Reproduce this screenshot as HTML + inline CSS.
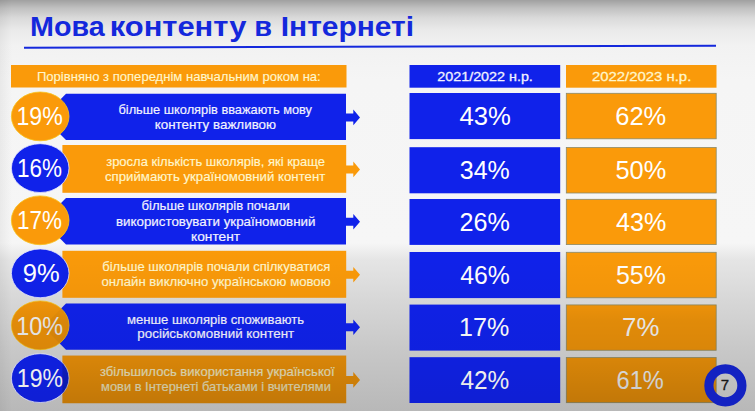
<!DOCTYPE html>
<html><head><meta charset="utf-8"><style>
html,body{margin:0;padding:0;width:755px;height:411px;overflow:hidden;background:#eee;}
svg{display:block;}
</style></head><body>
<svg width="755" height="411" viewBox="0 0 755 411">
<defs>
<linearGradient id="bg" x1="0" y1="0" x2="0" y2="1"><stop offset="0.0000" stop-color="#a0a0a0"/><stop offset="0.0195" stop-color="#c0c0c0"/><stop offset="0.0438" stop-color="#dadada"/><stop offset="0.0730" stop-color="#eaeaea"/><stop offset="0.1095" stop-color="#f2f2f2"/><stop offset="0.1946" stop-color="#f5f5f5"/><stop offset="0.5912" stop-color="#f6f6f6"/><stop offset="0.6326" stop-color="#e5e5e5"/><stop offset="0.7299" stop-color="#d7d7d7"/><stop offset="0.8491" stop-color="#c8c8c8"/><stop offset="1.0000" stop-color="#b8b8b8"/></linearGradient>
<linearGradient id="vo2" x1="0" y1="0" x2="0" y2="411" gradientUnits="userSpaceOnUse"><stop offset="0.0000" stop-color="#000" stop-opacity="0"/><stop offset="0.6083" stop-color="#000" stop-opacity="0"/><stop offset="0.7178" stop-color="#000" stop-opacity="0.03"/><stop offset="0.7786" stop-color="#000" stop-opacity="0.1"/><stop offset="0.8759" stop-color="#000" stop-opacity="0.14"/><stop offset="1.0000" stop-color="#000" stop-opacity="0.24"/></linearGradient>
<linearGradient id="vb2" x1="0" y1="0" x2="0" y2="411" gradientUnits="userSpaceOnUse"><stop offset="0.0000" stop-color="#000" stop-opacity="0"/><stop offset="0.6083" stop-color="#000" stop-opacity="0"/><stop offset="0.8516" stop-color="#000" stop-opacity="0.05"/><stop offset="1.0000" stop-color="#000" stop-opacity="0.1"/></linearGradient>
<clipPath id="cO"><rect x="11" y="65" width="335.5" height="22.5" fill="#fa9a0a"/><rect x="566" y="65" width="150.5" height="22.7" fill="#fa9a0a"/><ellipse cx="40.2" cy="116.4" rx="28.8" ry="24.4" fill="#fa9a0a" stroke="#f7c21a" stroke-width="0.8"/><rect x="566.3" y="93.3" width="149.9" height="45.5" fill="#fa9a0a" stroke="#8a8a6a" stroke-width="0.8"/><rect x="62.4" y="145" width="283.8" height="47.8" fill="#fa9a0a"/><polygon points="345.5,165.4 353.3,165.4 353.3,161.6 360,169.4 353.3,177.20000000000002 353.3,173.4 345.5,173.4" fill="#fa9a0a"/><rect x="566.3" y="147.5" width="149.9" height="45.5" fill="#fa9a0a" stroke="#8a8a6a" stroke-width="0.8"/><ellipse cx="40.2" cy="220.3" rx="28.8" ry="24.4" fill="#fa9a0a" stroke="#f7c21a" stroke-width="0.8"/><rect x="566.3" y="199.3" width="149.9" height="45.3" fill="#fa9a0a" stroke="#8a8a6a" stroke-width="0.8"/><rect x="62.4" y="250.8" width="283.8" height="47.0" fill="#fa9a0a"/><polygon points="345.5,270.8 353.3,270.8 353.3,267.0 360,274.8 353.3,282.6 353.3,278.8 345.5,278.8" fill="#fa9a0a"/><rect x="566.3" y="252.3" width="149.9" height="45.5" fill="#fa9a0a" stroke="#8a8a6a" stroke-width="0.8"/><ellipse cx="40.2" cy="325.3" rx="28.8" ry="24.4" fill="#fa9a0a" stroke="#f7c21a" stroke-width="0.8"/><rect x="566.3" y="304.90000000000003" width="149.9" height="45.4" fill="#fa9a0a" stroke="#8a8a6a" stroke-width="0.8"/><rect x="62.4" y="355.6" width="283.8" height="47.6" fill="#fa9a0a"/><polygon points="345.5,375.9 353.3,375.9 353.3,372.09999999999997 360,379.9 353.3,387.7 353.3,383.9 345.5,383.9" fill="#fa9a0a"/><rect x="566.3" y="357.5" width="149.9" height="45.2" fill="#fa9a0a" stroke="#8a8a6a" stroke-width="0.8"/></clipPath>
<clipPath id="cB"><rect x="409.5" y="65" width="150.7" height="22.7" fill="#1022ea"/><polygon points="66,93.8 346,93.8 346,140 66,140 43,116.9" fill="#1022ea"/><polygon points="345.5,113.4 353.3,113.4 353.3,109.60000000000001 360,117.4 353.3,125.2 353.3,121.4 345.5,121.4" fill="#1022ea"/><rect x="409.5" y="93" width="150.7" height="46.1" fill="#1022ea"/><ellipse cx="40.2" cy="168.1" rx="28.8" ry="24.4" fill="#1022ea" stroke="#e8e8ff" stroke-width="0.8"/><rect x="409.5" y="147.2" width="150.7" height="46.1" fill="#1022ea"/><polygon points="66,197.9 346,197.9 346,244.6 66,244.6 43,221.25" fill="#1022ea"/><polygon points="345.5,217.75 353.3,217.75 353.3,213.95 360,221.75 353.3,229.55 353.3,225.75 345.5,225.75" fill="#1022ea"/><rect x="409.5" y="199" width="150.7" height="45.9" fill="#1022ea"/><ellipse cx="40.2" cy="273.3" rx="28.8" ry="24.4" fill="#1022ea" stroke="#e8e8ff" stroke-width="0.8"/><rect x="409.5" y="252" width="150.7" height="46.1" fill="#1022ea"/><polygon points="66,303.6 346,303.6 346,349.8 66,349.8 43,326.70000000000005" fill="#1022ea"/><polygon points="345.5,323.20000000000005 353.3,323.20000000000005 353.3,319.40000000000003 360,327.20000000000005 353.3,335.00000000000006 353.3,331.20000000000005 345.5,331.20000000000005" fill="#1022ea"/><rect x="409.5" y="304.6" width="150.7" height="46.0" fill="#1022ea"/><ellipse cx="40.2" cy="378.1" rx="28.8" ry="24.4" fill="#1022ea" stroke="#e8e8ff" stroke-width="0.8"/><rect x="409.5" y="357.2" width="150.7" height="45.8" fill="#1022ea"/></clipPath>
<linearGradient id="lg" x1="0" y1="0" x2="1" y2="0"><stop offset="0" stop-color="#000" stop-opacity="0.05"/><stop offset="1" stop-color="#000" stop-opacity="0"/></linearGradient>
</defs>
<rect x="0" y="0" width="755" height="411" fill="url(#bg)"/>
<rect x="0" y="0" width="12" height="411" fill="url(#lg)"/>
<text x="30.07" y="36.2" font-family="'Liberation Sans', sans-serif" font-weight="bold" font-size="27" fill="#1428dc" textLength="74.57" lengthAdjust="spacingAndGlyphs">Мова</text>
<text x="109.74" y="36.2" font-family="'Liberation Sans', sans-serif" font-weight="bold" font-size="27" fill="#1428dc" textLength="136.63" lengthAdjust="spacingAndGlyphs">контенту</text>
<text x="254.28" y="36.2" font-family="'Liberation Sans', sans-serif" font-weight="bold" font-size="27" fill="#1428dc" textLength="17.77" lengthAdjust="spacingAndGlyphs">в</text>
<text x="280.78" y="36.2" font-family="'Liberation Sans', sans-serif" font-weight="bold" font-size="27" fill="#1428dc" textLength="133.34" lengthAdjust="spacingAndGlyphs">Інтернеті</text>
<line x1="24" y1="47.7" x2="716" y2="45.7" stroke="#1428dc" stroke-width="2"/>
<rect x="11" y="65" width="335.5" height="22.5" fill="#fa9a0a"/>
<rect x="409.5" y="65" width="150.7" height="22.7" fill="#1022ea"/>
<rect x="566" y="65" width="150.5" height="22.7" fill="#fa9a0a"/>
<polygon points="66,93.8 346,93.8 346,140 66,140 43,116.9" fill="#1022ea"/>
<polygon points="345.5,113.4 353.3,113.4 353.3,109.60000000000001 360,117.4 353.3,125.2 353.3,121.4 345.5,121.4" fill="#1022ea"/>
<ellipse cx="40.2" cy="116.4" rx="28.8" ry="24.4" fill="#fa9a0a" stroke="#f7c21a" stroke-width="0.8"/>
<rect x="409.5" y="93" width="150.7" height="46.1" fill="#1022ea"/>
<rect x="566.3" y="93.3" width="149.9" height="45.5" fill="#fa9a0a" stroke="#8a8a6a" stroke-width="0.8"/>
<rect x="62.4" y="145" width="283.8" height="47.8" fill="#fa9a0a"/>
<polygon points="345.5,165.4 353.3,165.4 353.3,161.6 360,169.4 353.3,177.20000000000002 353.3,173.4 345.5,173.4" fill="#fa9a0a"/>
<ellipse cx="40.2" cy="168.1" rx="28.8" ry="24.4" fill="#1022ea" stroke="#e8e8ff" stroke-width="0.8"/>
<rect x="409.5" y="147.2" width="150.7" height="46.1" fill="#1022ea"/>
<rect x="566.3" y="147.5" width="149.9" height="45.5" fill="#fa9a0a" stroke="#8a8a6a" stroke-width="0.8"/>
<polygon points="66,197.9 346,197.9 346,244.6 66,244.6 43,221.25" fill="#1022ea"/>
<polygon points="345.5,217.75 353.3,217.75 353.3,213.95 360,221.75 353.3,229.55 353.3,225.75 345.5,225.75" fill="#1022ea"/>
<ellipse cx="40.2" cy="220.3" rx="28.8" ry="24.4" fill="#fa9a0a" stroke="#f7c21a" stroke-width="0.8"/>
<rect x="409.5" y="199" width="150.7" height="45.9" fill="#1022ea"/>
<rect x="566.3" y="199.3" width="149.9" height="45.3" fill="#fa9a0a" stroke="#8a8a6a" stroke-width="0.8"/>
<rect x="62.4" y="250.8" width="283.8" height="47.0" fill="#fa9a0a"/>
<polygon points="345.5,270.8 353.3,270.8 353.3,267.0 360,274.8 353.3,282.6 353.3,278.8 345.5,278.8" fill="#fa9a0a"/>
<ellipse cx="40.2" cy="273.3" rx="28.8" ry="24.4" fill="#1022ea" stroke="#e8e8ff" stroke-width="0.8"/>
<rect x="409.5" y="252" width="150.7" height="46.1" fill="#1022ea"/>
<rect x="566.3" y="252.3" width="149.9" height="45.5" fill="#fa9a0a" stroke="#8a8a6a" stroke-width="0.8"/>
<polygon points="66,303.6 346,303.6 346,349.8 66,349.8 43,326.70000000000005" fill="#1022ea"/>
<polygon points="345.5,323.20000000000005 353.3,323.20000000000005 353.3,319.40000000000003 360,327.20000000000005 353.3,335.00000000000006 353.3,331.20000000000005 345.5,331.20000000000005" fill="#1022ea"/>
<ellipse cx="40.2" cy="325.3" rx="28.8" ry="24.4" fill="#fa9a0a" stroke="#f7c21a" stroke-width="0.8"/>
<rect x="409.5" y="304.6" width="150.7" height="46.0" fill="#1022ea"/>
<rect x="566.3" y="304.90000000000003" width="149.9" height="45.4" fill="#fa9a0a" stroke="#8a8a6a" stroke-width="0.8"/>
<rect x="62.4" y="355.6" width="283.8" height="47.6" fill="#fa9a0a"/>
<polygon points="345.5,375.9 353.3,375.9 353.3,372.09999999999997 360,379.9 353.3,387.7 353.3,383.9 345.5,383.9" fill="#fa9a0a"/>
<ellipse cx="40.2" cy="378.1" rx="28.8" ry="24.4" fill="#1022ea" stroke="#e8e8ff" stroke-width="0.8"/>
<rect x="409.5" y="357.2" width="150.7" height="45.8" fill="#1022ea"/>
<rect x="566.3" y="357.5" width="149.9" height="45.2" fill="#fa9a0a" stroke="#8a8a6a" stroke-width="0.8"/>
<text x="36.96" y="80.8" font-family="'Liberation Sans', sans-serif" font-size="13" fill="#fff6cc" textLength="283.81" lengthAdjust="spacingAndGlyphs" stroke="#fff6cc" stroke-width="0.15">Порівняно з попереднім навчальним роком на:</text>
<text x="437.28" y="81.2" font-family="'Liberation Sans', sans-serif" font-size="13" fill="#f2f2ff" textLength="95.6" lengthAdjust="spacingAndGlyphs" stroke="#f2f2ff" stroke-width="0.3">2021/2022 н.р.</text>
<text x="591.95" y="81.2" font-family="'Liberation Sans', sans-serif" font-size="13" fill="#fff6cc" textLength="99.37" lengthAdjust="spacingAndGlyphs" stroke="#fff6cc" stroke-width="0.3">2022/2023 н.р.</text>
<text x="16.46" y="124.7" font-family="'Liberation Sans', sans-serif" font-size="26.5" fill="#ffffff" textLength="46.32" lengthAdjust="spacingAndGlyphs">19%</text>
<text x="118.46" y="114" font-family="'Liberation Sans', sans-serif" font-size="13" fill="#f2f2ff" textLength="193.56" lengthAdjust="spacingAndGlyphs" stroke="#f2f2ff" stroke-width="0.18">більше школярів вважають мову</text>
<text x="154.7" y="128.5" font-family="'Liberation Sans', sans-serif" font-size="13" fill="#f2f2ff" textLength="121.38" lengthAdjust="spacingAndGlyphs" stroke="#f2f2ff" stroke-width="0.18">контенту важливою</text>
<text x="459.42" y="124.8" font-family="'Liberation Sans', sans-serif" font-size="26" fill="#ffffff" textLength="51.45" lengthAdjust="spacingAndGlyphs">43%</text>
<text x="615.22" y="124.8" font-family="'Liberation Sans', sans-serif" font-size="26" fill="#ffffff" textLength="51.04" lengthAdjust="spacingAndGlyphs">62%</text>
<text x="16.92" y="176.5" font-family="'Liberation Sans', sans-serif" font-size="26.5" fill="#ffffff" textLength="44.95" lengthAdjust="spacingAndGlyphs">16%</text>
<text x="106.18" y="166" font-family="'Liberation Sans', sans-serif" font-size="13" fill="#fff6cc" textLength="218.9" lengthAdjust="spacingAndGlyphs" stroke="#fff6cc" stroke-width="0.18">зросла кількість школярів, які краще</text>
<text x="104.94" y="181.2" font-family="'Liberation Sans', sans-serif" font-size="13" fill="#fff6cc" textLength="220.29" lengthAdjust="spacingAndGlyphs" stroke="#fff6cc" stroke-width="0.18">сприймають україномовний контент</text>
<text x="459.76" y="179.0" font-family="'Liberation Sans', sans-serif" font-size="26" fill="#ffffff" textLength="49.99" lengthAdjust="spacingAndGlyphs">34%</text>
<text x="615.49" y="179.0" font-family="'Liberation Sans', sans-serif" font-size="26" fill="#ffffff" textLength="50.78" lengthAdjust="spacingAndGlyphs">50%</text>
<text x="16.92" y="229" font-family="'Liberation Sans', sans-serif" font-size="26.5" fill="#ffffff" textLength="44.95" lengthAdjust="spacingAndGlyphs">17%</text>
<text x="141.55" y="210.3" font-family="'Liberation Sans', sans-serif" font-size="13" fill="#f2f2ff" textLength="148.35" lengthAdjust="spacingAndGlyphs" stroke="#f2f2ff" stroke-width="0.18">більше школярів почали</text>
<text x="115.97" y="226" font-family="'Liberation Sans', sans-serif" font-size="13" fill="#f2f2ff" textLength="199.45" lengthAdjust="spacingAndGlyphs" stroke="#f2f2ff" stroke-width="0.18">використовувати україномовний</text>
<text x="191.07" y="240.9" font-family="'Liberation Sans', sans-serif" font-size="13" fill="#f2f2ff" textLength="48.97" lengthAdjust="spacingAndGlyphs" stroke="#f2f2ff" stroke-width="0.18">контент</text>
<text x="459.44" y="230.8" font-family="'Liberation Sans', sans-serif" font-size="26" fill="#ffffff" textLength="50.31" lengthAdjust="spacingAndGlyphs">26%</text>
<text x="615.93" y="230.8" font-family="'Liberation Sans', sans-serif" font-size="26" fill="#ffffff" textLength="50.32" lengthAdjust="spacingAndGlyphs">43%</text>
<text x="22.79" y="282" font-family="'Liberation Sans', sans-serif" font-size="26.5" fill="#ffffff" textLength="36.92" lengthAdjust="spacingAndGlyphs">9%</text>
<text x="102.25" y="271" font-family="'Liberation Sans', sans-serif" font-size="13" fill="#fff6cc" textLength="227.96" lengthAdjust="spacingAndGlyphs" stroke="#fff6cc" stroke-width="0.18">більше школярів почали спілкуватися</text>
<text x="101.44" y="285.6" font-family="'Liberation Sans', sans-serif" font-size="13" fill="#fff6cc" textLength="229.13" lengthAdjust="spacingAndGlyphs" stroke="#fff6cc" stroke-width="0.18">онлайн виключно українською мовою</text>
<text x="460.14" y="283.8" font-family="'Liberation Sans', sans-serif" font-size="26" fill="#ffffff" textLength="49.6" lengthAdjust="spacingAndGlyphs">46%</text>
<text x="616.0" y="283.8" font-family="'Liberation Sans', sans-serif" font-size="26" fill="#ffffff" textLength="49.84" lengthAdjust="spacingAndGlyphs">55%</text>
<text x="16.14" y="334.5" font-family="'Liberation Sans', sans-serif" font-size="26.5" fill="#ffffff" textLength="46.85" lengthAdjust="spacingAndGlyphs">10%</text>
<text x="127.08" y="323.6" font-family="'Liberation Sans', sans-serif" font-size="13" fill="#f2f2ff" textLength="176.94" lengthAdjust="spacingAndGlyphs" stroke="#f2f2ff" stroke-width="0.18">менше школярів споживають</text>
<text x="137.33" y="338.2" font-family="'Liberation Sans', sans-serif" font-size="13" fill="#f2f2ff" textLength="156.83" lengthAdjust="spacingAndGlyphs" stroke="#f2f2ff" stroke-width="0.18">російськомовний контент</text>
<text x="459.12" y="336.40000000000003" font-family="'Liberation Sans', sans-serif" font-size="26" fill="#ffffff" textLength="50.24" lengthAdjust="spacingAndGlyphs">17%</text>
<text x="622.11" y="336.40000000000003" font-family="'Liberation Sans', sans-serif" font-size="26" fill="#ffffff" textLength="37.3" lengthAdjust="spacingAndGlyphs">7%</text>
<text x="16.87" y="386.8" font-family="'Liberation Sans', sans-serif" font-size="26.5" fill="#ffffff" textLength="46.11" lengthAdjust="spacingAndGlyphs">19%</text>
<text x="99.97" y="375.9" font-family="'Liberation Sans', sans-serif" font-size="13" fill="#fff6cc" textLength="234.66" lengthAdjust="spacingAndGlyphs" stroke="#fff6cc" stroke-width="0.18">збільшилось використання української</text>
<text x="101.1" y="390.5" font-family="'Liberation Sans', sans-serif" font-size="13" fill="#fff6cc" textLength="229.77" lengthAdjust="spacingAndGlyphs" stroke="#fff6cc" stroke-width="0.18">мови в Інтернеті батьками і вчителями</text>
<text x="460.45" y="389.0" font-family="'Liberation Sans', sans-serif" font-size="26" fill="#ffffff" textLength="48.88" lengthAdjust="spacingAndGlyphs">42%</text>
<text x="616.52" y="389.0" font-family="'Liberation Sans', sans-serif" font-size="26" fill="#ffffff" textLength="47.29" lengthAdjust="spacingAndGlyphs">61%</text>
<rect x="0" y="240" width="755" height="171" fill="url(#vo2)" clip-path="url(#cO)"/>
<rect x="0" y="240" width="755" height="171" fill="url(#vb2)" clip-path="url(#cB)"/>
<circle cx="725.4" cy="385.4" r="16.5" fill="none" stroke="#1322c2" stroke-width="9.2"/>
<text x="725" y="389.8" text-anchor="middle" font-family="'Liberation Sans', sans-serif" font-size="15" fill="#161616" stroke="#161616" stroke-width="0.3">7</text>
</svg>
</body></html>
